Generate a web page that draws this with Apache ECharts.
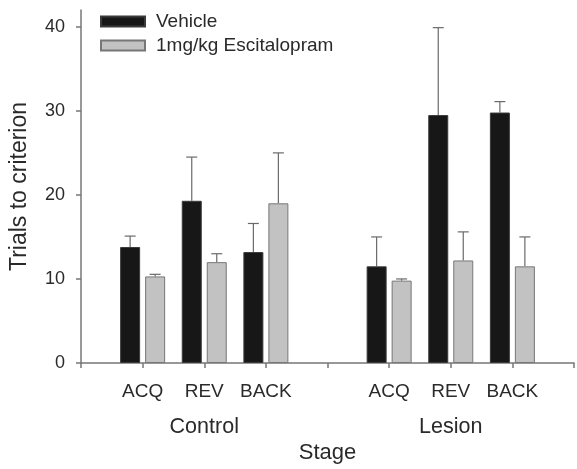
<!DOCTYPE html>
<html>
<head>
<meta charset="utf-8">
<script src="https://cdn.jsdelivr.net/npm/echarts@6/dist/echarts.min.js"></script>
<style>
  html, body { margin: 0; padding: 0; background: #fff; }
  #chart { width: 577px; height: 469px; }
</style>
</head>
<body>
<div id="chart"></div>
<script>
// data
const stages = ['ACQ', 'REV', 'BACK']
const groups = ['Control', 'Lesion']
const vehicle = [13.8, 19.3, 13.2, 11.5, 29.5, 29.8]
const vehicleErr = [1.3, 5.2, 3.4, 3.5, 10.4, 1.3]
const escit = [10.3, 12.0, 19.0, 9.8, 12.2, 11.5]
const escitErr = [0.25, 1.0, 6.0, 0.2, 3.4, 3.5]
const yTicks = [0, 10, 20, 30, 40]

// 9 slots: blank, 3 control stages, blank, 3 lesion stages, blank
const slots = ['s0', 's1', 's2', 's3', 's4', 's5', 's6', 's7', 's8']
const slotOf = i => i < 3 ? i + 1 : i + 2
const stageLabel = {}
const groupLabel = {}
vehicle.forEach((v, i) => { stageLabel[slotOf(i)] = stages[i % 3] })
groups.forEach((g, k) => { groupLabel[slotOf(k * 3 + 1)] = g })

const toSlots = arr => slots.map((s, j) => {
  const i = arr.findIndex((v, k) => slotOf(k) === j)
  return i < 0 ? '-' : arr[i]
})
const errData = (vals, errs) => vals.map((v, i) => [slotOf(i), v, v + errs[i]])

const font = 'Liberation Sans, Arial, sans-serif'
const txt = '#2a2a2a'

const chart = echarts.init(document.getElementById('chart'))

const errSeries = (name, vals, errs, dx) => ({
  type: 'custom',
  name: name + ' err',
  xAxisIndex: 0,
  data: errData(vals, errs),
  z: 1,
  renderItem: (params, api) => {
    const base = api.coord([api.value(0), api.value(1)])
    const top = api.coord([api.value(0), api.value(2)])
    const x = base[0] + dx
    const style = { stroke: '#6a6a6a', lineWidth: 1.2 }
    return {
      type: 'group',
      children: [
        { type: 'line', shape: { x1: x, y1: base[1], x2: x, y2: top[1] }, style },
        { type: 'line', shape: { x1: x - 5.5, y1: top[1], x2: x + 5.5, y2: top[1] }, style }
      ]
    }
  }
})

chart.setOption({
  animation: false,
  backgroundColor: '#fff',
  textStyle: { fontFamily: font },
  grid: { left: 80, right: 1, top: 10, bottom: 100 },
  legend: {
    orient: 'vertical',
    left: 95, top: 7,
    icon: 'rect',
    itemWidth: 44, itemHeight: 10, itemGap: 5,
    textStyle: { fontSize: 19, color: txt, fontFamily: font, lineHeight: 19, padding: [0, 0, 0, 6] },
    data: ['Vehicle', '1mg/kg Escitalopram']
  },
  xAxis: [{
    type: 'category',
    data: slots,
    boundaryGap: false,
    axisLine: { lineStyle: { color: '#777', width: 1.5 } },
    axisTick: { interval: 0, length: 5, lineStyle: { color: '#777', width: 1.5 } },
    axisLabel: {
      interval: 0, margin: 19, fontSize: 19, color: txt, fontFamily: font,
      formatter: (v, i) => stageLabel[i] || ''
    },
    name: 'Stage',
    nameLocation: 'middle',
    nameGap: 79,
    nameTextStyle: { fontSize: 22, color: txt, fontFamily: font }
  }, {
    type: 'category',
    data: slots,
    boundaryGap: false,
    position: 'bottom',
    axisLine: { show: false },
    axisTick: { show: false },
    axisLabel: {
      interval: 0, margin: 53, fontSize: 21.5, color: txt, fontFamily: font,
      formatter: (v, i) => groupLabel[i] || ''
    }
  }],
  yAxis: {
    type: 'value',
    min: 0, max: 42, interval: 10,
    splitLine: { show: false },
    axisLine: { show: true, lineStyle: { color: '#777', width: 1.5 } },
    axisTick: { show: true, length: 5, customValues: yTicks, lineStyle: { color: '#777', width: 1.5 } },
    axisLabel: { customValues: yTicks, margin: 16, fontSize: 18, color: txt, fontFamily: font },
    name: 'Trials to criterion',
    nameLocation: 'middle',
    nameGap: 50,
    nameTextStyle: { fontSize: 23, color: txt, fontFamily: font }
  },
  series: [{
    type: 'bar',
    name: 'Vehicle',
    data: toSlots(vehicle),
    barWidth: 20,
    barGap: '25%',
    z: 2,
    itemStyle: { color: '#161716', borderColor: '#3a3a3a', borderWidth: 1 }
  }, {
    type: 'bar',
    name: '1mg/kg Escitalopram',
    data: toSlots(escit),
    barWidth: 20,
    z: 2,
    itemStyle: { color: '#c2c2c2', borderColor: '#777', borderWidth: 1 }
  },
  errSeries('Vehicle', vehicle, vehicleErr, -12.5),
  errSeries('1mg/kg Escitalopram', escit, escitErr, 12.5)]
})
</script>
</body>
</html>
